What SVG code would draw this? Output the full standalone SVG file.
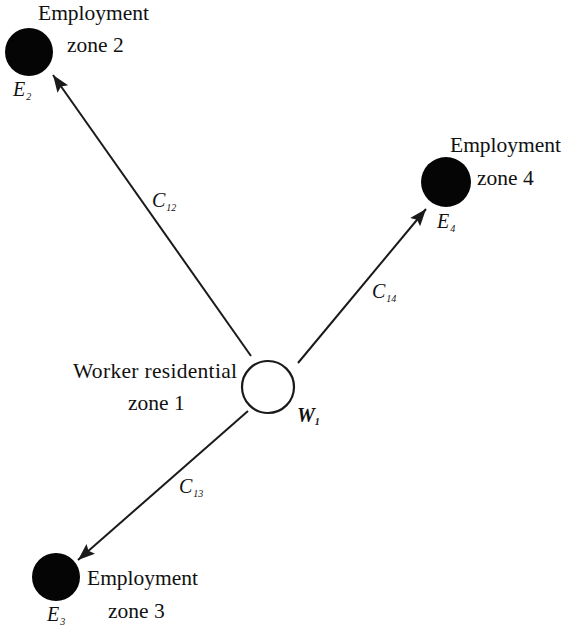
<svg xmlns="http://www.w3.org/2000/svg" width="565" height="631" viewBox="0 0 565 631">
<style>
.lbl{font-family:"Liberation Serif","Times New Roman",serif;font-size:21.5px;fill:#111}
.var{font-family:"Liberation Serif","Times New Roman",serif;font-size:20px;font-style:italic;fill:#111}
.sub{font-family:"Liberation Serif","Times New Roman",serif;font-size:10px;fill:#111}
.edge{stroke:#1a1a1a;stroke-width:2;fill:none;marker-end:url(#ah)}
.emp{fill:#050505}
</style>
<defs>
<marker id="ah" markerUnits="userSpaceOnUse" markerWidth="18" markerHeight="14" refX="17" refY="6.5" orient="auto">
<path d="M0,0 L17,6.5 L0,13 L3,6.5 z" fill="#1a1a1a"/>
</marker>
</defs>
<rect width="565" height="631" fill="#ffffff"/>
<g id="connectors">
<line class="edge" x1="251" y1="356" x2="53" y2="75"/>
<line class="edge" x1="298" y1="363" x2="426" y2="209"/>
<line class="edge" x1="248" y1="411" x2="78" y2="560"/>
<text class="var" x="152" y="207">C<tspan class="sub" dx="1" dy="4">12</tspan></text>
<text class="var" x="372" y="298">C<tspan class="sub" dx="1" dy="4">14</tspan></text>
<text class="var" x="179" y="493">C<tspan class="sub" dx="1" dy="4">13</tspan></text>
</g>
<g id="W1">
<circle cx="268" cy="387" r="26" fill="#fff" stroke="#1a1a1a" stroke-width="2.2"/>
<text class="lbl" x="73" y="378" textLength="164" lengthAdjust="spacing">Worker residential</text>
<text class="lbl" x="128" y="410">zone 1</text>
<text class="var" x="297" y="422" font-weight="bold">W<tspan class="sub" dx="0" dy="3">1</tspan></text>
</g>
<g id="E2">
<circle class="emp" cx="29" cy="52" r="24"/>
<text class="lbl" x="38" y="20">Employment</text>
<text class="lbl" x="67" y="52">zone 2</text>
<text class="var" x="13" y="96">E<tspan class="sub" dx="1" dy="4">2</tspan></text>
</g>
<g id="E4">
<circle class="emp" cx="446" cy="182" r="25"/>
<text class="lbl" x="450" y="152">Employment</text>
<text class="lbl" x="477" y="185">zone 4</text>
<text class="var" x="437" y="228">E<tspan class="sub" dx="1" dy="4">4</tspan></text>
</g>
<g id="E3">
<circle class="emp" cx="56" cy="577" r="24"/>
<text class="lbl" x="87" y="585">Employment</text>
<text class="lbl" x="108" y="618">zone 3</text>
<text class="var" x="47" y="621">E<tspan class="sub" dx="1" dy="4">3</tspan></text>
</g>
</svg>
